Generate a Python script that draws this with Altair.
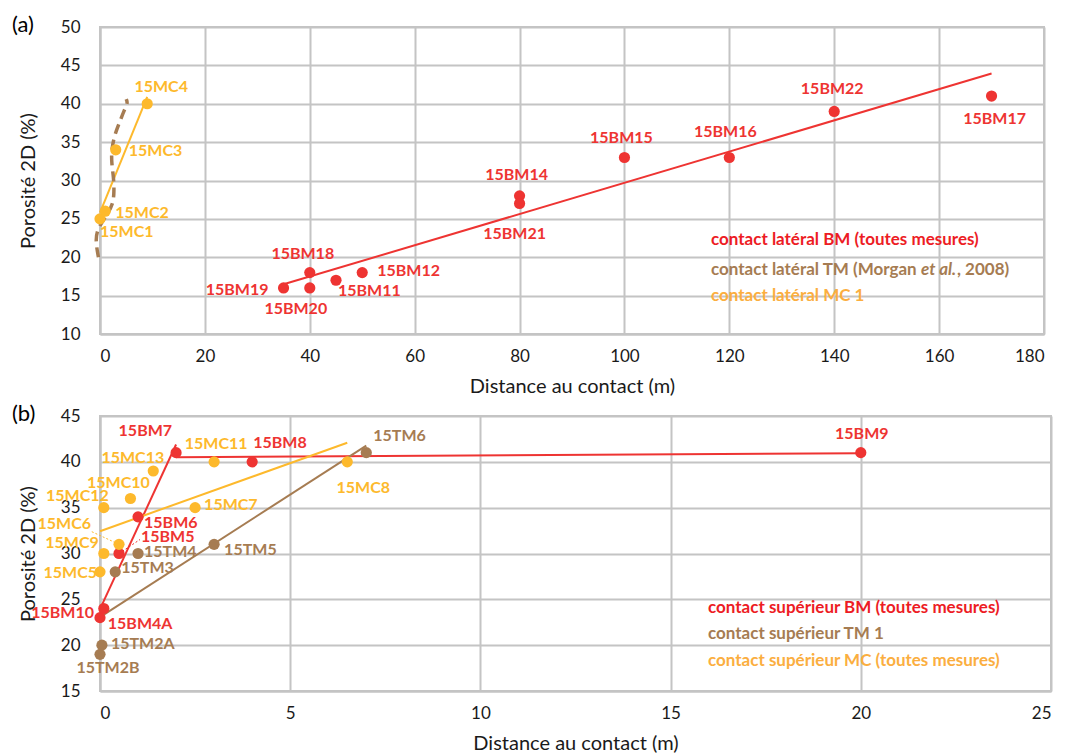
import altair as alt
import pandas as pd

# ---------------- data : panel (a) ----------------
a_names = ["15BM19", "15BM20", "15BM18", "15BM11", "15BM12", "15BM14", "15BM21",
           "15BM15", "15BM16", "15BM22", "15BM17",
           "15MC1", "15MC2", "15MC3", "15MC4"]
a_dist = [35, 40, 40, 45, 50, 80, 80, 100, 120, 140, 170, 0, 1, 3, 9]
a_poro = [16, 16, 18, 17, 18, 28, 27, 33, 33, 39, 41, 25, 26, 34, 40]
a_series = ["BM"] * 11 + ["MC"] * 4

# Morgan et al. (2008) lateral TM curve (dashed)
morgan_dist = [-0.3, -0.9, -0.4, 1.2, 2.5, 2.7, 2.6, 2.2, 2.2, 2.8, 3.8, 4.7, 5.3, 5.0]
morgan_poro = [20.0, 22.3, 23.8, 25.4, 26.9, 28.6, 30.4, 32.3, 34.0, 36.0, 37.7, 39.3, 40.1, 40.6]

# ---------------- data : panel (b) ----------------
b_names = ["15BM10", "15BM4A", "15BM5", "15BM6", "15BM7", "15BM8", "15BM9",
           "15TM2B", "15TM2A", "15TM3", "15TM4", "15TM5", "15TM6",
           "15MC5", "15MC9", "15MC6", "15MC12", "15MC10", "15MC13", "15MC7", "15MC11", "15MC8"]
b_dist = [0, 0.1, 0.5, 1, 2, 4, 20,
          0, 0.05, 0.4, 1, 3, 7,
          0, 0.1, 0.5, 0.1, 0.8, 1.4, 2.5, 3, 6.5]
b_poro = [23, 24, 30, 34, 41, 40, 41,
          19, 20, 28, 30, 31, 41,
          28, 30, 31, 35, 36, 39, 35, 40, 40]
b_series = ["BM"] * 7 + ["TM"] * 6 + ["MC"] * 9

# trend-line subsets (panel b)
b_bm_steep = ["15BM10", "15BM4A", "15BM5", "15BM6", "15BM7"]
b_bm_flat = ["15BM7", "15BM8", "15BM9"]

series_names = ["BM", "TM", "MC"]
panel_tags = ["(a)", "(b)"]
legend_a = ["contact latéral BM (toutes mesures)",
            "contact latéral TM (Morgan ", "et al.", ", 2008)",
            "contact latéral MC 1"]
legend_b = ["contact supérieur BM (toutes mesures)",
            "contact supérieur TM 1",
            "contact supérieur MC (toutes mesures)"]

# ---------------- styles ----------------
RED, BROWN, ORANGE = "#EE3432", "#A67C52", "#FDB92C"
LEG_RED, LEG_BROWN, LEG_ORANGE = "#ED1C24", "#A67C52", "#FBAE40"
GRID = "#C4C4C4"
FONT = "Lato"
LEG_SIZE = 17
color_scale = alt.Scale(domain=series_names, range=[RED, BROWN, ORANGE])

a_label_style = {
    "15MC4": ("center", 14, -17), "15MC3": ("left", 13, 1), "15MC2": ("left", 10, 2),
    "15MC1": ("left", 0, 13), "15BM19": ("right", -15, 2), "15BM20": ("center", -14, 21),
    "15BM18": ("center", -7, -19), "15BM11": ("left", 2, 11), "15BM12": ("left", 15, -2),
    "15BM14": ("center", -3, -21), "15BM21": ("center", -5, 30), "15BM15": ("center", -3, -19),
    "15BM16": ("center", -4, -25), "15BM22": ("center", -2, -22), "15BM17": ("center", 3, 23),
}
b_label_style = {
    "15BM7": ("right", -4, -22), "15MC11": ("center", 2, -18), "15BM8": ("left", 1, -19),
    "15BM9": ("center", 1, -19), "15TM6": ("left", 7, -17), "15MC8": ("center", 16, 26),
    "15MC13": ("right", 11, -13), "15MC10": ("center", -12, -16), "15MC12": ("right", 5, -12),
    "15MC6": ("right", -28, -20), "15MC9": ("right", -5, -11), "15MC5": ("right", -3, 1),
    "15MC7": ("left", 9, -3), "15BM6": ("left", 6, 6), "15BM5": ("left", 22, -17),
    "15TM4": ("left", 6, -2), "15TM3": ("left", 6, -4), "15TM5": ("left", 10, 6),
    "15BM10": ("right", -6, -5), "15BM4A": ("left", 4, 15), "15TM2A": ("left", 9, -1),
    "15TM2B": ("center", 8, 14),
}

df_a = pd.DataFrame({"name": a_names, "dist": a_dist, "poro": a_poro, "series": a_series})
df_m = pd.DataFrame({"dist": morgan_dist, "poro": morgan_poro, "i": list(range(len(morgan_dist)))})
df_b = pd.DataFrame({"name": b_names, "dist": b_dist, "poro": b_poro, "series": b_series})
one = pd.DataFrame({"k": [0]})


def enc_xy(xdom, xstep, ydom, ystep):
    x = alt.X("dist:Q", scale=alt.Scale(domain=xdom, nice=False, zero=False),
              axis=alt.Axis(values=list(range(xdom[0], xdom[1] + 1, xstep)),
                            title="Distance au contact (m)", labelPadding=14, titlePadding=12))
    y = alt.Y("poro:Q", scale=alt.Scale(domain=ydom, nice=False, zero=False),
              axis=alt.Axis(values=list(range(ydom[0], ydom[1] + 1, ystep)),
                            title="Porosité 2D (%)", labelPadding=20, titlePadding=22))
    return x, y


def trend(df, x, y, col, names=None, series=None):
    c = alt.Chart(df)
    if names is not None:
        c = c.transform_filter(alt.FieldOneOfPredicate(field="name", oneOf=names))
    if series is not None:
        c = c.transform_filter(alt.datum.series == series)
    return c.transform_regression("dist", "poro").mark_line(color=col, strokeWidth=2).encode(x=x, y=y)


def labels(df, x, y, style):
    layers = []
    for nm, (al, dx, dy) in style.items():
        layers.append(
            alt.Chart(df).transform_filter(alt.datum.name == nm)
            .mark_text(align=al, dx=dx, dy=dy, baseline="middle", font=FONT,
                       fontSize=16, fontWeight="bold")
            .encode(x=x, y=y, text="name:N",
                    color=alt.Color("series:N", scale=color_scale, legend=None))
        )
    return layers


def note(text, px, py, col, italic=False, size=LEG_SIZE, weight="bold"):
    return alt.Chart(one).mark_text(
        align="left", baseline="middle", font=FONT, fontSize=size, fontWeight=weight,
        fontStyle="italic" if italic else "normal", color=col, text=text
    ).encode(x=alt.value(px), y=alt.value(py))


def points(df, x, y):
    return alt.Chart(df).mark_circle(size=125, opacity=1).encode(
        x=x, y=y, color=alt.Color("series:N", scale=color_scale, legend=None))


# ---------------- panel (a) ----------------
xa, ya = enc_xy([0, 180], 20, [10, 50], 5)
layers_a = [
    trend(df_a, xa, ya, RED, series="BM"),
    trend(df_a, xa, ya, ORANGE, series="MC"),
    alt.Chart(df_m).mark_line(color=BROWN, strokeWidth=3.5, strokeDash=[10, 6],
                              interpolate="basis").encode(x=xa, y=ya, order="i:Q"),
    points(df_a, xa, ya),
] + labels(df_a, xa, ya, a_label_style) + [
    note(legend_a[0], 611, 213, LEG_RED),
    note(legend_a[1], 611, 243, LEG_BROWN),
    note(legend_a[2], 821, 243, LEG_BROWN, italic=True),
    note(legend_a[3], 857, 243, LEG_BROWN),
    note(legend_a[4], 611, 269, LEG_ORANGE),
    note(panel_tags[0], -88, -2, "#000000", size=22, weight="normal"),
]
chart_a = alt.layer(*layers_a).properties(width=944, height=307)

# ---------------- panel (b) ----------------
xb, yb = enc_xy([0, 25], 5, [15, 45], 5)
leaders = [
    alt.Chart(df_b).transform_filter(alt.datum.name == "15MC6")
    .mark_rule(color=ORANGE, strokeWidth=1, strokeDash=[2, 2], x2Offset=-28, y2Offset=-13)
    .encode(x=xb, y=yb, x2="dist:Q", y2="poro:Q"),
    alt.Chart(df_b).transform_filter(alt.datum.name == "15BM5")
    .mark_rule(color=RED, strokeWidth=1, strokeDash=[2, 2], x2Offset=21, y2Offset=-14)
    .encode(x=xb, y=yb, x2="dist:Q", y2="poro:Q"),
]
layers_b = [
    trend(df_b, xb, yb, RED, names=b_bm_steep),
    trend(df_b, xb, yb, RED, names=b_bm_flat),
    trend(df_b, xb, yb, BROWN, series="TM"),
    trend(df_b, xb, yb, ORANGE, series="MC"),
] + leaders + [points(df_b, xb, yb)] + labels(df_b, xb, yb, b_label_style) + [
    note(legend_b[0], 608, 192, LEG_RED),
    note(legend_b[1], 608, 218, LEG_BROWN),
    note(legend_b[2], 608, 245, LEG_ORANGE),
    note(panel_tags[1], -88, -2, "#000000", size=22, weight="normal"),
]
chart_b = alt.layer(*layers_b).properties(width=951, height=275)

chart = alt.vconcat(chart_a, chart_b, spacing=82, bounds="flush").properties(
    padding={"left": 3, "top": 5, "right": 2, "bottom": 2}
).configure_axis(
    grid=True, gridColor=GRID, gridWidth=2, domainColor=GRID, domainWidth=2, ticks=False,
    labelFont=FONT, labelFontSize=17, labelColor="#1a1a1a",
    titleFont=FONT, titleFontSize=20, titleFontWeight="normal", titleColor="#1a1a1a",
).configure_view(stroke=GRID, strokeWidth=2)

chart.save("out.html", embed_options={"renderer": "svg", "actions": False})
